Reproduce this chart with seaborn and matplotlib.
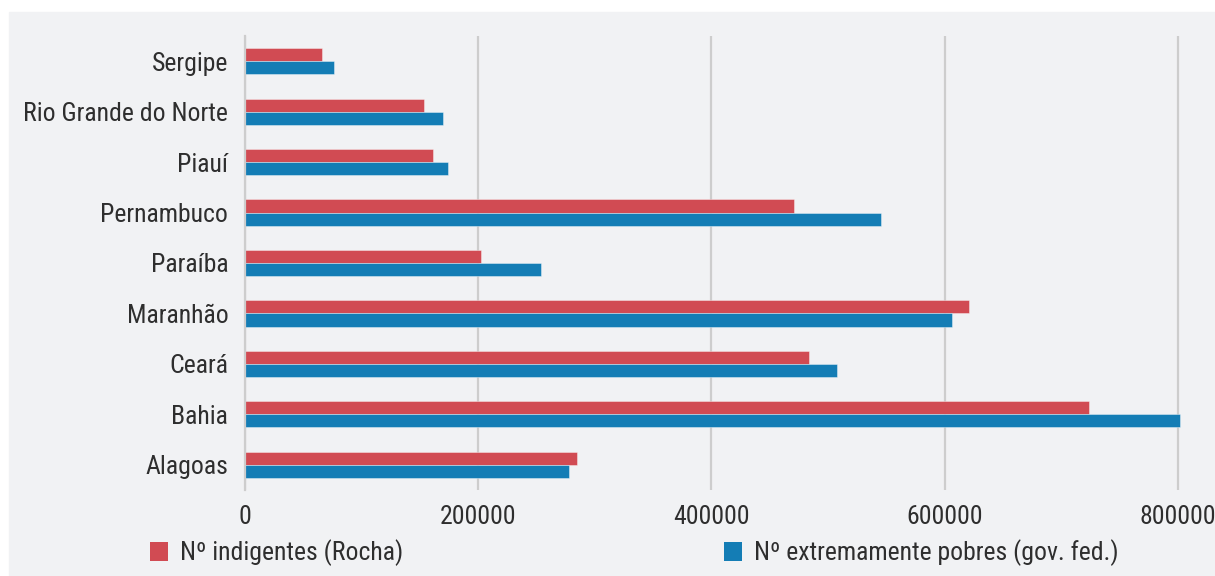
import matplotlib
matplotlib.use("Agg")
import matplotlib.pyplot as plt
import seaborn as sns
import pandas as pd
from matplotlib.patches import Patch, Rectangle

states = ["Sergipe", "Rio Grande do Norte", "Piauí", "Pernambuco", "Paraíba",
          "Maranhão", "Ceará", "Bahia", "Alagoas"]
indigentes = [66000, 153500, 161000, 471000, 202500, 621000, 484000, 724000, 284500]
extremos = [76500, 170000, 174500, 545500, 254000, 606500, 507500, 802000, 278000]
series_names = ["Nº indigentes (Rocha)", "Nº extremamente pobres (gov. fed.)"]
colors = ["#d14b53", "#147db5"]
xticks = [0, 200000, 400000, 600000, 800000]

df = pd.DataFrame({
    "state": states * 2,
    "value": indigentes + extremos,
    "series": [series_names[0]] * len(states) + [series_names[1]] * len(states),
})

sns.set_theme(style="white")
fam = ["Roboto Condensed", "Archivo Narrow", "DejaVu Sans"]
plt.rcParams["font.family"] = fam
plt.rcParams["font.weight"] = "normal"

bg = "#f1f2f4"
txtc = "#2e2e2e"
fs = 18.5
fig = plt.figure(figsize=(12.15, 5.76), dpi=100, facecolor="white")
fig.patches.append(Rectangle((9 / 1215, 0), 1 - 9 / 1215, 1 - 12 / 576,
                             transform=fig.transFigure, color=bg, zorder=-10))
ax = fig.add_axes([245 / 1215, 1 - 490 / 576, (1183.6 - 245) / 1215, (490 - 36) / 576])
ax.set_facecolor(bg)

sns.barplot(data=df, y="state", x="value", hue="series", order=states,
            hue_order=series_names, palette=colors, orient="h",
            width=0.52, ax=ax, edgecolor=(1, 1, 1, 0.45), linewidth=0.6,
            saturation=1, legend=False)

ax.set_xlim(0, 805000)
ax.set_ylim(8.5, -0.5)
ax.set_xticks(xticks)
ax.set_xticklabels([str(t) for t in xticks])
ax.xaxis.grid(True, color="#cdcdcd", linewidth=1.6)
ax.set_axisbelow(True)
for s in ["top", "right", "bottom"]:
    ax.spines[s].set_visible(False)
ax.spines["left"].set_color("#cdcdcd")
ax.spines["left"].set_linewidth(1.6)
ax.set_xlabel("")
ax.set_ylabel("")
ax.tick_params(axis="both", length=0, labelsize=fs, colors=txtc)
ax.tick_params(axis="x", pad=11)
ax.tick_params(axis="y", pad=12)
for lbl in ax.get_yticklabels():
    lbl.set_va("center_baseline")

anchors = [150, 724]
for name, col, xa in zip(series_names, colors, anchors):
    leg = fig.legend(handles=[Patch(facecolor=col, edgecolor="none")], labels=[name],
                     loc="center left", bbox_to_anchor=(xa / 1215, 1 - 553 / 576),
                     bbox_transform=fig.transFigure, frameon=False, fontsize=fs,
                     handlelength=0.7, handleheight=0.74, handletextpad=0.45,
                     borderpad=0, borderaxespad=0)
    for t in leg.get_texts():
        t.set_color(txtc)

fig.savefig("out.png", dpi=100, facecolor="white")
